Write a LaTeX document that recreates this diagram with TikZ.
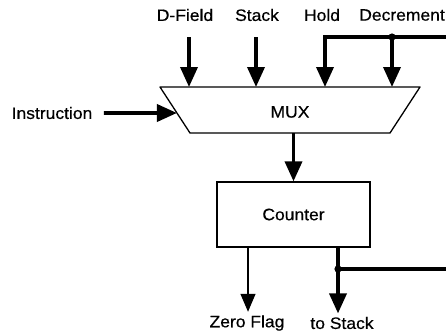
\documentclass[tikz,border=0pt]{standalone}
\usepackage{fontspec}
\setmainfont[FakeStretch=1.06, FakeBold=0.5]{Liberation Sans}
\usepackage{tikz}
\usetikzlibrary{calc, arrows.meta}

\begin{document}
\begin{tikzpicture}[x=1pt, y=-1pt,
    font=\fontsize{16.5}{19}\selectfont,
    bus/.style={line width=3.6pt, -{Triangle[length=20pt,width=17pt]}},
    wire/.style={line width=1.3pt, -{Triangle[length=18pt,width=15pt]}},
    busline/.style={line width=3.6pt},
    blockline/.style={line width=1.3pt}]
      \useasboundingbox (0,0) rectangle (446,333);
      % multiplexer
      \coordinate (mtl) at (160,87);
      \coordinate (mtr) at (420,87);
      \coordinate (mbr) at (390,133);
      \coordinate (mbl) at (190,133);
      \draw[blockline, line join=round] (mtl) -- (mtr) -- (mbr) -- (mbl) -- cycle;
      \node (mux) at (290,112) {MUX};
      % inputs on top
      \node (dfield) at (185,15) {D-Field};
      \node (stack) at (257,15) {Stack};
      \node (hold) at (322,15) {Hold};
      \node[inner sep=0pt, anchor=east] (decr) at (445,15) {Decrement};
      \foreach \n/\x in {df/189, st/256, ho/325, de/392} {
          \coordinate (top-\n) at (\x,37);
          \coordinate (in-\n) at (\x,87);
      }
      \coordinate (feedtop) at (446,37);
      \draw[bus] (top-df) -- (in-df);
      \draw[bus] (top-st) -- (in-st);
      \draw[bus, line join=miter] (feedtop) -- (top-ho) -- (in-ho);
      \draw[bus] (top-de) -- (in-de);
      \fill (top-de) circle (3.6);
      % instruction input
      \node (instr) at (52,113) {Instruction};
      \draw[bus] ([xshift=8]instr.east) -- ($(mtl)!0.565!(mbl)$);
      % counter
      \node[draw, blockline, minimum width=153, minimum height=65] (counter) at (293.5,214.5) {Counter};
      \draw[bus] (counter.north |- mbl) -- (counter.north);
      % outputs
      \node (zero) at (247,323) {Zero Flag};
      \node (tostack) at (342,323) {to Stack};
      \coordinate (zs) at ([xshift=-45.5]counter.south);
      \coordinate (ss) at ([xshift=44.5]counter.south);
      \coordinate (split) at (338,269);
      \coordinate (feedbot) at (446,269);
      \draw[wire] (zs) -- (zs |- zero.north);
      \draw[bus] (ss) -- (ss |- tostack.north);
      \draw[busline] (split) -- (feedbot);
      \fill (split) circle (3.6);
\end{tikzpicture}
\end{document}
